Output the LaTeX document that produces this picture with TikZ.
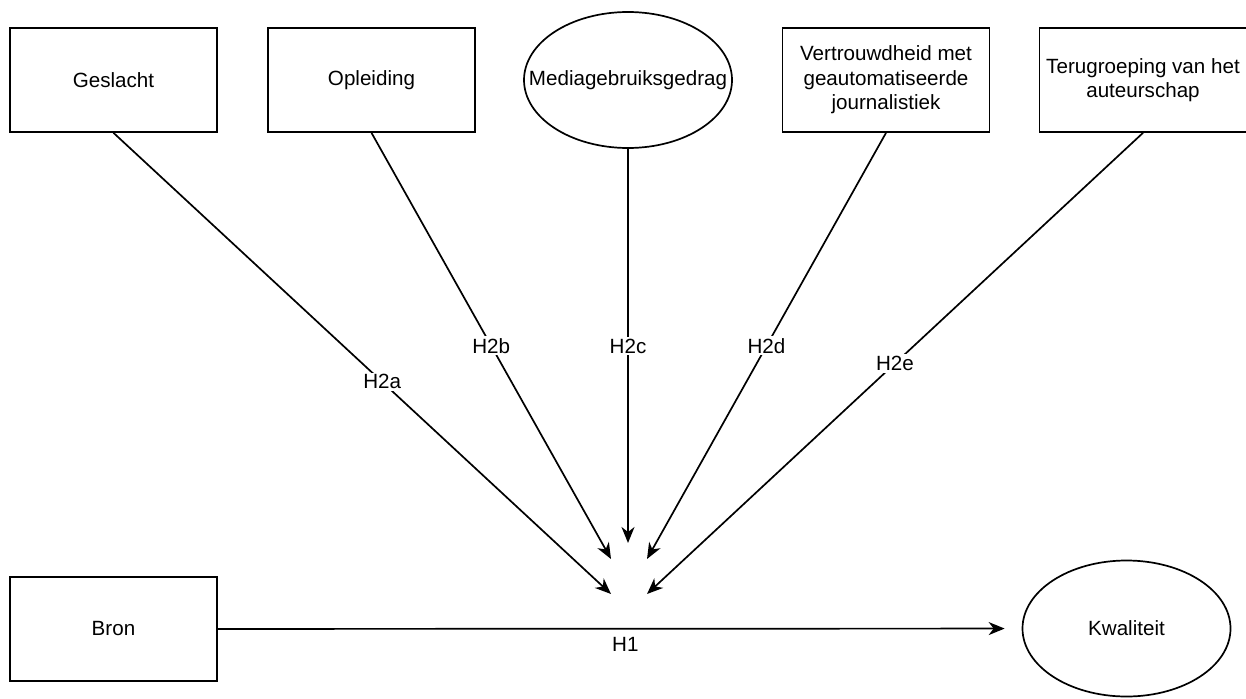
\documentclass[tikz,border=0pt]{standalone}
\usepackage{fontspec}
\setmainfont{Liberation Sans}
\usetikzlibrary{arrows.meta,shapes.geometric}

\begin{document}
\begin{tikzpicture}[x = 1pt, y = -1pt]
\tikzstyle{factor} = [draw, line width = 1.7pt, minimum width = 207pt, minimum height = 104pt, align = center, inner sep = 2pt, font = \fontsize{20.6}{24.5}\selectfont]
\tikzstyle{latent} = [factor, ellipse, minimum width = 208pt, minimum height = 136pt, inner xsep = -30pt]
\tikzstyle{hyp} = [fill = white, inner sep = 2pt, font = \fontsize{20.6}{24.5}\selectfont]
\tikzset{effect/.style={draw, line width = 1.7pt, -{Stealth[length = 16pt, width = 13pt, inset = 5pt]}}}
\useasboundingbox (0,0) rectangle (1246,698);

\node [factor] (geslacht) at (113.5,80) {Geslacht};
\node [factor] (opleiding) at (371.5,80) {Opleiding};
\node [latent] (media) at (628,80) {Mediagebruiksgedrag};
\node [factor] (vertrouwd) at (886,80) {Vertrouwdheid met\\geautomatiseerde\\journalistiek};
\node [factor] (terug) at (1143,80) {Terugroeping van het\\auteurschap};
\node [factor] (bron) at (113.5,629) {Bron};
\node [latent] (kwaliteit) at (1126.5,628.5) {Kwaliteit};

\coordinate (inA) at (611,594);
\coordinate (inB) at (611,559);
\coordinate (inC) at (628,543);
\coordinate (inD) at (647,559);
\coordinate (inE) at (647,594);

\draw [effect] (geslacht.south) -- node [hyp, pos = 0.54] {H2a} (inA);
\draw [effect] (opleiding.south) -- node [hyp, pos = 0.5] {H2b} (inB);
\draw [effect] (media.south) -- node [hyp, pos = 0.5] {H2c} (inC);
\draw [effect] (vertrouwd.south) -- node [hyp, pos = 0.5] {H2d} (inD);
\draw [effect] (terug.south) -- node [hyp, pos = 0.5] {H2e} (inE);
\draw [effect, shorten > = 17pt] (bron) -- node [hyp, pos = 0.507, below = 6pt] {H1} (kwaliteit);

\end{tikzpicture}
\end{document}
